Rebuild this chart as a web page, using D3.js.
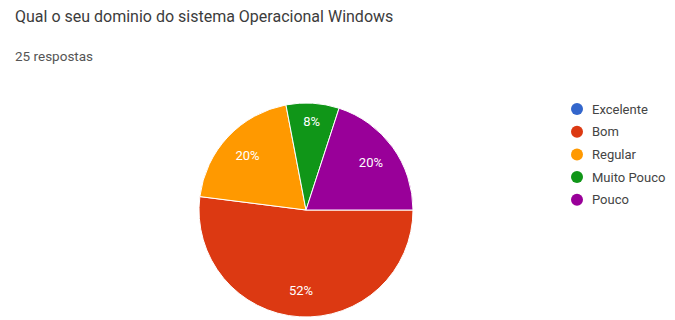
<!DOCTYPE html>
<html>
<head>
<meta charset="utf-8">
<script src="https://cdn.jsdelivr.net/npm/d3@7"></script>
<style>
  body { margin: 0; background: #fff; }
  text { font-family: Roboto, Arial, sans-serif; }
</style>
</head>
<body>
<svg id="chart"></svg>
<script>
// answer categories, in legend order
const categories = ["Excelente", "Bom", "Regular", "Muito Pouco", "Pouco"];
// share of the 25 answers, in percent
const percentages = [0, 52, 20, 8, 20];
const sliceColors = ["#3366cc", "#dc3912", "#ff9900", "#109618", "#990099"];
const title = "Qual o seu dominio do sistema Operacional Windows";
const subtitle = "25 respostas";

const width = 675, height = 320;
const svg = d3.select("#chart").attr("width", width).attr("height", height);

svg.append("text")
    .attr("x", 15).attr("y", 22)
    .attr("font-size", 16)
    .attr("fill", "#3c3c3c")
    .text(title);

svg.append("text")
    .attr("x", 15).attr("y", 61)
    .attr("font-size", 13.5)
    .attr("fill", "#555")
    .text(subtitle);

const data = categories.map((c, i) => ({name: c, value: percentages[i]}));
const color = d3.scaleOrdinal().domain(categories).range(sliceColors);

// google pie here starts at 3 o'clock
const pie = d3.pie().sort(null).value(d => d.value)
    .startAngle(Math.PI / 2).endAngle(Math.PI / 2 + 2 * Math.PI);
const radius = 107;
const arc = d3.arc().innerRadius(0).outerRadius(radius);
const labelArc = d3.arc().innerRadius(radius * 0.75).outerRadius(radius * 0.75);

const g = svg.append("g").attr("transform", "translate(306,210)");
const arcs = pie(data).filter(d => d.data.value > 0);

g.selectAll("path").data(arcs).join("path")
    .attr("d", arc)
    .attr("fill", d => color(d.data.name))
    .attr("stroke", "#fff")
    .attr("stroke-width", 1);

g.selectAll("text").data(arcs).join("text")
    .attr("transform", d => {
        // thin slices get their label pushed further out
        const c = labelArc.centroid(d);
        const k = (d.endAngle - d.startAngle) < 0.6 ? 1.1 : 1;
        return `translate(${c[0] * k},${c[1] * k})`;
    })
    .attr("text-anchor", "middle")
    .attr("dy", "0.35em")
    .attr("font-size", 13)
    .attr("fill", "#fff")
    .text(d => d3.format(".0f")(d.data.value) + "%");

const legend = svg.append("g").attr("transform", "translate(577,109)");
const row = legend.selectAll("g").data(categories).join("g")
    .attr("transform", (d, i) => `translate(0,${i * 22.7})`);
row.append("circle").attr("r", 6).attr("fill", d => color(d));
row.append("text")
    .attr("x", 15).attr("dy", "0.35em")
    .attr("font-size", 13)
    .attr("fill", "#444")
    .text(d => d);
</script>
</body>
</html>
